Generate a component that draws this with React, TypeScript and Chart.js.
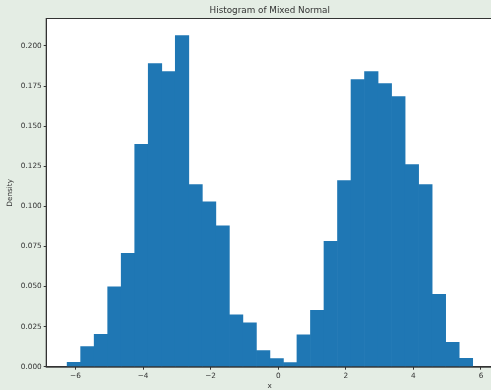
import React, { useEffect, useRef } from "react";
import { Chart, registerables } from "chart.js";

Chart.register(...registerables);

const TITLE = "Histogram of Mixed Normal";
const X_LABEL = "x";
const Y_LABEL = "Density";
const BIN_START = -6.245;
const BIN_WIDTH = 0.4;
const densities = [
  0.0027, 0.0125, 0.0202, 0.0498, 0.0707, 0.1386, 0.189, 0.184, 0.2065, 0.1136,
  0.1028, 0.0879, 0.0324, 0.0274, 0.01, 0.005, 0.0025, 0.0199, 0.0351, 0.0781,
  0.1161, 0.1791, 0.184, 0.1766, 0.1685, 0.1261, 0.1136, 0.0451, 0.0152, 0.0052,
];
const X_MIN = -6.85;
const X_MAX = 6.35;
const Y_MIN = 0;
const Y_MAX = 0.2168;
const X_STEP = 2;
const Y_STEP = 0.025;

const BG = "#e4ede4";
const TEXT = "#333333";
const BAR = "#1f77b4";
const FONT = "'DejaVu Sans', sans-serif";

export default function App() {
  const ref = useRef<HTMLCanvasElement | null>(null);
  useEffect(() => {
    document.body.style.margin = "0";
    document.body.style.overflow = "hidden";
    document.body.style.background = BG;
    const canvas = ref.current!;
    const points = densities.map((y, i) => ({ x: BIN_START + (i + 0.5) * BIN_WIDTH, y }));
    const framePlugin = {
      id: "frame",
      beforeDraw(chart: any) {
        const { ctx, chartArea } = chart;
        ctx.save();
        ctx.fillStyle = BG;
        ctx.fillRect(0, 0, chart.width, chart.height);
        ctx.fillStyle = "#ffffff";
        ctx.fillRect(chartArea.left, chartArea.top, chartArea.right - chartArea.left, chartArea.bottom - chartArea.top);
        ctx.restore();
      },
      afterDraw(chart: any) {
        const { ctx, chartArea } = chart;
        ctx.save();
        ctx.strokeStyle = TEXT;
        ctx.lineWidth = 1;
        ctx.strokeRect(chartArea.left - 0.5, chartArea.top - 0.5, chartArea.right - chartArea.left + 1, chartArea.bottom - chartArea.top + 1);
        ctx.fillStyle = TEXT;
        ctx.font = `8.8px ${FONT}`;
        ctx.textAlign = "center";
        ctx.textBaseline = "middle";
        ctx.fillText(TITLE, (chartArea.left + chartArea.right) / 2, 11);
        ctx.restore();
      },
    };
    const fmtX = (v: number) => (v < 0 ? "\u2212" + Math.abs(v) : String(v));
    const chart = new Chart(canvas, {
      type: "bar",
      data: {
        datasets: [
          {
            data: points,
            backgroundColor: BAR,
            borderWidth: 0,
            barPercentage: 1,
            categoryPercentage: 1,
          },
        ],
      },
      options: {
        animation: false,
        responsive: false,
        devicePixelRatio: 1,
        layout: { padding: { top: 19, right: 7.2, left: 0, bottom: 0 } },
        plugins: { legend: { display: false }, tooltip: { enabled: false }, title: { display: false } },
        scales: {
          x: {
            type: "linear",
            offset: false,
            min: X_MIN,
            max: X_MAX,
            grid: { display: true, offset: false, drawOnChartArea: false, drawTicks: true, tickLength: 3, color: TEXT },
            border: { display: true, color: TEXT },
            ticks: {
              stepSize: X_STEP,
              includeBounds: false,
              autoSkip: false,
              maxRotation: 0,
              padding: 2,
              color: TEXT,
              font: { family: FONT, size: 7.3 },
              callback: (v: any) => fmtX(Number(v)),
            },
            title: { display: true, text: X_LABEL, color: TEXT, font: { family: FONT, size: 7.3 }, padding: { top: 0, bottom: 0 } },
            afterFit: (s: any) => {
              s.height = 23.3;
            },
          },
          y: {
            min: Y_MIN,
            max: Y_MAX,
            grid: { display: true, offset: false, drawOnChartArea: false, drawTicks: true, tickLength: 3, color: TEXT },
            border: { display: true, color: TEXT },
            ticks: {
              stepSize: Y_STEP,
              includeBounds: false,
              autoSkip: false,
              padding: 2,
              color: TEXT,
              font: { family: FONT, size: 7.3 },
              callback: (v: any) => Number(v).toFixed(3),
            },
            title: { display: true, text: Y_LABEL, color: TEXT, font: { family: FONT, size: 7.3 }, padding: { top: 6, bottom: 0 } },
            afterFit: (s: any) => {
              s.width = 46.7;
            },
          },
        },
      },
      plugins: [framePlugin],
    } as any);
    return () => chart.destroy();
  }, []);
  return <canvas ref={ref} width={500} height={390} style={{ display: "block" }} />;
}
